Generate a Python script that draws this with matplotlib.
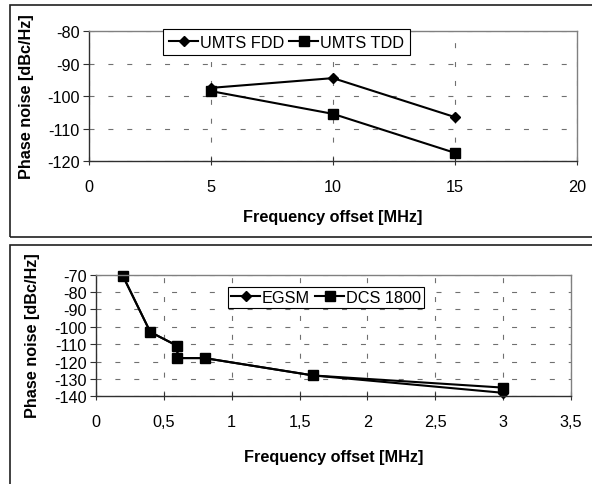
import matplotlib
matplotlib.use("Agg")
import matplotlib.pyplot as plt
from matplotlib.patches import Rectangle
from matplotlib.ticker import FixedLocator, FuncFormatter

plt.rcParams["font.family"] = ["Liberation Sans", "DejaVu Sans"]
plt.rcParams["font.size"] = 11.7
plt.rcParams["lines.scale_dashes"] = False

# UMTS panel
umts_x = [5, 10, 15]
umts_fdd = [-97.5, -94.5, -106.5]
umts_tdd = [-98.5, -105.5, -117.5]
umts_xticks = [0, 5, 10, 15, 20]
umts_yticks = [-120, -110, -100, -90, -80]

# GSM panel
gsm_x_egsm = [0.2, 0.4, 0.6, 0.6, 0.8, 1.6, 3.0]
gsm_egsm = [-71, -103, -111, -118, -118, -128, -138]
gsm_x_dcs = [0.2, 0.4, 0.6, 0.6, 0.8, 1.6, 3.0]
gsm_dcs = [-71, -103, -111, -118, -118, -128, -135]
gsm_xticks = [0, 0.5, 1, 1.5, 2, 2.5, 3, 3.5]
gsm_yticks = [-140, -130, -120, -110, -100, -90, -80, -70]

W, H = 592, 485


def fx(px):
    return px / W


def fy(py):
    return 1 - py / H


def comma(v, pos=None):
    # excel-style decimal comma, plain hyphen for minus
    return ("%g" % v).replace(".", ",")


def style_axes(ax, xticks, yticks):
    ax.set_xlim(xticks[0], xticks[-1])
    ax.set_ylim(yticks[0], yticks[-1])
    ax.xaxis.set_major_locator(FixedLocator(xticks))
    ax.yaxis.set_major_locator(FixedLocator(yticks))
    ax.xaxis.set_major_formatter(FuncFormatter(comma))
    ax.yaxis.set_major_formatter(FuncFormatter(comma))
    for side in ("top", "right"):
        ax.spines[side].set_color("#808080")
        ax.spines[side].set_linewidth(1.0)
    for side in ("left", "bottom"):
        ax.spines[side].set_color("#303030")
        ax.spines[side].set_linewidth(1.0)
    ax.tick_params(axis="x", direction="inout", length=6, width=0.8,
                   color="#303030", pad=10)
    ax.tick_params(axis="y", direction="out", length=4.5, width=0.8,
                   color="#303030", pad=2)
    ax.grid(True, color="#707070", linewidth=0.8, linestyle=(0, (3.6, 10)))
    ax.set_axisbelow(True)


fig = plt.figure(figsize=(W / 100, H / 100), dpi=100)

# panel frames
fig.add_artist(Rectangle((fx(9.5), fy(238)), 1.0, fy(6) - fy(238),
                         transform=fig.transFigure, fill=False,
                         edgecolor="#202020", linewidth=1.2))
fig.add_artist(Rectangle((fx(9.5), fy(500)), 1.0, fy(246) - fy(500),
                         transform=fig.transFigure, fill=False,
                         edgecolor="#202020", linewidth=1.2))

# top: UMTS
ax1 = fig.add_axes([fx(89), fy(162), fx(577) - fx(89), fy(32) - fy(162)])
style_axes(ax1, umts_xticks, umts_yticks)
ax1.plot(umts_x, umts_fdd, color="black", linewidth=1.5, marker="D",
         markersize=5.2, label="UMTS FDD", clip_on=False)
ax1.plot(umts_x, umts_tdd, color="black", linewidth=1.5, marker="s",
         markersize=6.5, label="UMTS TDD", clip_on=False)
ax1.legend(loc="center", bbox_to_anchor=(fx(286.5), fy(43)),
           bbox_transform=fig.transFigure, ncol=2, fancybox=False,
           framealpha=1, edgecolor="black", borderpad=0.35,
           handlelength=1.8, handletextpad=0.1, columnspacing=0.3,
           borderaxespad=0).get_frame().set_linewidth(0.8)
fig.text(fx(333), fy(218), "Frequency offset [MHz]", fontweight="bold",
         ha="center", va="center")
fig.text(fx(26.5), fy(97), "Phase noise [dBc/Hz]", fontweight="bold",
         ha="center", va="center", rotation=90)

# bottom: GSM
ax2 = fig.add_axes([fx(96), fy(397.3), fx(571) - fx(96), fy(275.7) - fy(397.3)])
style_axes(ax2, gsm_xticks, gsm_yticks)
ax2.plot(gsm_x_egsm, gsm_egsm, color="black", linewidth=1.5, marker="D",
         markersize=5.2, label="EGSM", clip_on=False)
ax2.plot(gsm_x_dcs, gsm_dcs, color="black", linewidth=1.5, marker="s",
         markersize=6.5, label="DCS 1800", clip_on=False)
ax2.legend(loc="center", bbox_to_anchor=(fx(326), fy(298.5)),
           bbox_transform=fig.transFigure, ncol=2, fancybox=False,
           framealpha=1, edgecolor="black", borderpad=0.2,
           handlelength=1.8, handletextpad=0.1, columnspacing=0.3,
           borderaxespad=0).get_frame().set_linewidth(0.8)
fig.text(fx(333.5), fy(458), "Frequency offset [MHz]", fontweight="bold",
         ha="center", va="center")
fig.text(fx(32.5), fy(336), "Phase noise [dBc/Hz]", fontweight="bold",
         ha="center", va="center", rotation=90)

fig.savefig("out.png", dpi=100)
